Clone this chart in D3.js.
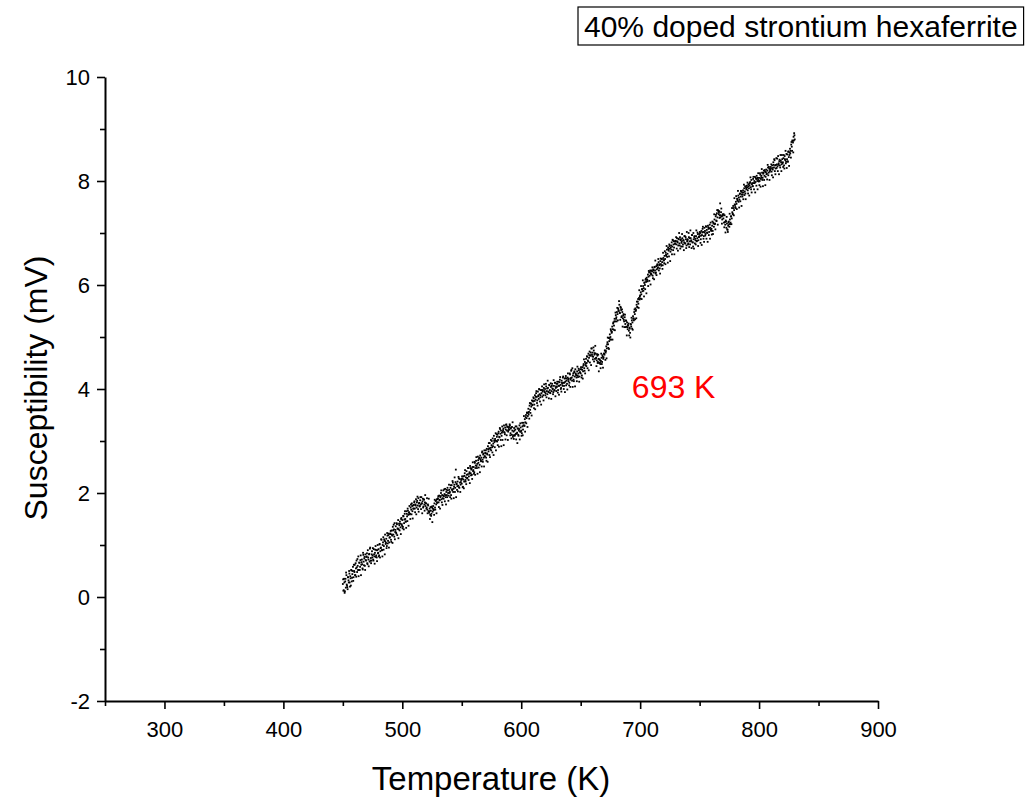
<!DOCTYPE html>
<html>
<head>
<meta charset="utf-8">
<script src="https://cdn.jsdelivr.net/npm/d3@7/dist/d3.min.js"></script>
<style>
  html, body { margin: 0; padding: 0; background: #fff; }
  svg { display: block; font-family: "Liberation Sans", Arial, sans-serif; }
</style>
</head>
<body>
<svg id="chart" width="1031" height="804"></svg>
<script>
// ---- data ----
const tempStartA = 450;     // K, first reading of run A
const tempStartB = 450.25;  // K, first reading of run B
const tempStep = 0.5;       // K between readings
const susceptibilityA = [   // mV, run A, one reading per 0.5 K
  0.25,0.12,0.35,0.08,0.30,0.18,0.42,0.22,0.15,0.38,0.28,0.45,0.20,0.36,0.52,0.30,0.44,0.58,0.38,0.50,
  0.62,0.42,0.55,0.70,0.48,0.60,0.78,0.52,0.66,0.58,0.80,0.62,0.72,0.55,0.85,0.68,0.74,0.60,0.82,0.70,
  0.78,0.65,0.90,0.72,0.82,0.68,0.95,0.75,0.70,0.88,0.80,0.72,0.92,0.78,0.85,0.98,0.80,0.76,0.90,0.84,
  0.92,0.80,1.02,0.88,0.95,1.10,0.90,1.00,1.15,0.98,1.08,1.20,1.02,1.12,0.98,1.18,1.08,1.22,1.05,1.15,
  1.22,1.10,1.28,1.18,1.35,1.20,1.30,1.42,1.25,1.36,1.22,1.40,1.32,1.48,1.30,1.38,1.45,1.34,1.50,1.40,
  1.48,1.35,1.55,1.42,1.60,1.50,1.45,1.65,1.55,1.70,1.58,1.62,1.75,1.60,1.72,1.68,1.80,1.65,1.76,1.70,
  1.82,1.70,1.78,1.88,1.72,1.85,1.76,1.90,1.80,1.74,1.86,1.78,1.92,1.80,1.84,1.72,1.88,1.78,1.82,1.75,
  1.80,1.72,1.68,1.78,1.65,1.62,1.70,1.58,1.66,1.60,1.72,1.64,1.75,1.68,1.80,1.72,1.85,1.78,1.88,1.82,
  1.90,1.82,1.95,1.86,1.92,2.00,1.88,1.96,1.90,2.05,1.94,1.98,2.08,1.92,2.02,1.96,2.10,2.00,1.95,2.06,
  2.02,2.10,1.96,2.15,2.05,2.20,2.08,2.12,2.30,2.10,2.45,2.18,2.06,2.22,2.14,2.28,2.10,2.20,2.16,2.25,
  2.18,2.28,2.12,2.32,2.22,2.38,2.25,2.30,2.42,2.28,2.36,2.48,2.32,2.40,2.52,2.38,2.45,2.35,2.50,2.42,
  2.50,2.40,2.58,2.48,2.62,2.52,2.56,2.70,2.58,2.66,2.54,2.72,2.62,2.68,2.78,2.64,2.74,2.68,2.82,2.70,
  2.76,2.68,2.85,2.74,2.90,2.80,2.86,2.96,2.84,3.02,2.92,2.88,3.05,2.95,3.10,2.98,3.04,3.15,3.00,3.08,
  3.12,3.02,3.18,3.08,3.25,3.14,3.20,3.10,3.28,3.18,3.24,3.30,3.16,3.26,3.22,3.32,3.20,3.28,3.18,3.25,
  3.22,3.30,3.15,3.26,3.12,3.20,3.08,3.18,3.25,3.10,3.22,3.14,3.28,3.16,3.24,3.12,3.20,3.30,3.18,3.26,
  3.20,3.15,3.28,3.22,3.35,3.30,3.42,3.36,3.50,3.44,3.55,3.48,3.62,3.56,3.68,3.60,3.72,3.66,3.78,3.70,
  3.76,3.82,3.70,3.88,3.80,3.92,3.85,3.78,3.95,3.88,4.00,3.90,3.84,3.98,3.92,4.05,3.95,3.88,4.02,3.96,
  4.00,3.92,4.05,3.96,3.90,4.02,3.94,4.08,3.98,3.92,4.04,3.96,4.10,4.00,3.94,4.06,3.98,4.12,4.02,3.96,
  4.04,4.10,3.98,4.14,4.06,4.18,4.08,4.02,4.16,4.10,4.22,4.12,4.06,4.20,4.14,4.25,4.16,4.10,4.22,4.18,
  4.20,4.12,4.28,4.18,4.35,4.22,4.40,4.26,4.18,4.32,4.24,4.38,4.28,4.22,4.34,4.26,4.30,4.36,4.24,4.32,
  4.30,4.38,4.26,4.42,4.34,4.48,4.40,4.52,4.46,4.58,4.50,4.62,4.55,4.68,4.60,4.72,4.64,4.70,4.78,4.66,
  4.70,4.62,4.74,4.66,4.58,4.68,4.60,4.55,4.64,4.52,4.58,4.50,4.56,4.48,4.54,4.60,4.52,4.62,4.58,4.68,
  4.66,4.74,4.70,4.82,4.78,4.90,4.86,4.98,4.92,5.05,5.00,5.12,5.08,5.20,5.15,5.28,5.22,5.35,5.30,5.42,
  5.38,5.48,5.44,5.55,5.50,5.62,5.46,5.58,5.52,5.40,5.48,5.36,5.44,5.30,5.38,5.25,5.32,5.20,5.28,5.15,
  5.22,5.12,5.18,5.08,5.25,5.20,5.32,5.28,5.40,5.36,5.48,5.44,5.55,5.52,5.62,5.58,5.68,5.64,5.75,5.72,
  5.80,5.86,5.82,5.92,5.88,5.98,5.94,6.04,6.00,6.10,6.06,6.14,6.10,6.20,6.16,6.24,6.18,6.28,6.22,6.20,
  6.26,6.18,6.30,6.24,6.34,6.28,6.22,6.36,6.30,6.40,6.34,6.44,6.38,6.32,6.46,6.40,6.50,6.44,6.38,6.52,
  6.48,6.56,6.50,6.62,6.56,6.68,6.60,6.72,6.66,6.78,6.70,6.64,6.76,6.82,6.74,6.86,6.78,6.72,6.84,6.80,
  6.84,6.78,6.90,6.82,6.76,6.88,6.80,6.92,6.86,6.74,6.84,6.90,6.78,6.86,6.82,6.94,6.80,6.88,6.76,6.84,
  6.88,6.80,6.92,6.84,6.78,6.90,6.86,6.96,6.82,6.74,6.88,6.92,6.80,6.86,6.94,6.84,6.90,6.98,6.86,6.92,
  6.94,7.00,6.88,7.04,6.96,7.08,7.02,6.94,7.10,7.04,6.98,7.12,7.06,7.00,7.14,7.08,7.02,7.16,7.10,7.06,
  7.08,7.14,7.04,7.20,7.12,7.26,7.18,7.32,7.24,7.38,7.30,7.44,7.36,7.42,7.34,7.30,7.40,7.32,7.26,7.36,
  7.28,7.20,7.34,7.16,7.24,7.10,7.18,7.06,7.14,7.22,7.12,7.26,7.20,7.32,7.28,7.40,7.36,7.48,7.44,7.55,
  7.50,7.60,7.56,7.66,7.62,7.72,7.68,7.64,7.76,7.70,7.80,7.74,7.70,7.82,7.78,7.86,7.80,7.76,7.88,7.84,
  7.88,7.82,7.94,7.86,7.92,7.98,7.88,8.02,7.94,7.90,8.04,7.96,8.00,8.08,7.98,8.04,8.10,8.00,8.06,8.02,
  8.06,8.00,8.12,8.04,8.10,8.16,8.06,8.14,8.20,8.10,8.18,8.08,8.22,8.14,8.20,8.26,8.16,8.24,8.18,8.22,
  8.24,8.18,8.30,8.22,8.36,8.26,8.40,8.30,8.24,8.44,8.32,8.28,8.48,8.34,8.38,8.30,8.50,8.36,8.32,8.42,
  8.36,8.44,8.30,8.48,8.40,8.34,8.52,8.42,8.38,8.56,8.46,8.50,8.62,8.58,8.70,8.66,8.78,8.74,8.85,8.92,
  8.80
];
const susceptibilityB = [   // mV, run B, one reading per 0.5 K (offset 0.25 K)
  0.34,0.13,0.28,0.11,0.35,0.47,0.24,0.19,0.38,0.32,0.50,0.28,0.40,0.22,0.51,0.37,0.50,0.31,0.62,0.48,
  0.42,0.65,0.39,0.57,0.73,0.52,0.40,0.66,0.52,0.71,0.42,0.67,0.63,0.53,0.81,0.61,0.77,0.52,0.71,0.77,
  0.84,0.63,0.76,0.59,0.83,0.93,0.70,0.65,0.82,0.76,0.94,0.70,0.82,0.64,0.91,0.77,0.90,0.69,1.00,0.85,
  0.78,1.01,0.76,0.94,1.11,0.90,0.78,1.05,0.91,1.11,0.82,1.07,1.04,0.94,1.23,1.03,1.19,0.95,1.14,1.21,
  1.27,1.06,1.20,1.04,1.28,1.39,1.16,1.11,1.29,1.24,1.42,1.19,1.31,1.13,1.41,1.28,1.41,1.21,1.52,1.37,
  1.32,1.56,1.30,1.49,1.65,1.45,1.33,1.60,1.46,1.66,1.37,1.63,1.59,1.50,1.78,1.59,1.75,1.51,1.70,1.77,
  1.84,1.63,1.76,1.59,1.82,1.93,1.69,1.64,1.81,1.75,1.92,1.69,1.80,1.61,1.89,1.74,1.87,1.66,1.96,1.80,
  1.70,1.90,1.61,1.76,1.89,1.65,1.50,1.73,1.56,1.74,1.44,1.70,1.67,1.58,1.87,1.68,1.85,1.61,1.81,1.88,
  1.94,1.73,1.87,1.70,1.94,2.05,1.82,1.77,1.95,1.89,2.07,1.84,1.96,1.78,2.06,1.92,2.05,1.85,2.16,2.00,
  1.92,2.15,1.89,2.07,2.23,2.02,1.90,2.16,2.02,2.21,1.92,2.17,2.13,2.03,2.31,2.11,2.27,2.02,2.21,2.27,
  2.32,2.11,2.26,2.09,2.33,2.44,2.22,2.17,2.35,2.29,2.48,2.25,2.37,2.19,2.48,2.34,2.47,2.27,2.59,2.44,
  2.37,2.60,2.35,2.53,2.69,2.48,2.37,2.63,2.49,2.68,2.40,2.65,2.61,2.51,2.80,2.60,2.76,2.51,2.71,2.77,
  2.82,2.62,2.76,2.60,2.84,2.96,2.73,2.69,2.87,2.82,3.00,2.78,2.90,2.73,3.01,2.88,3.01,2.82,3.13,2.99,
  2.92,3.15,2.89,3.07,3.23,3.02,2.90,3.16,3.02,3.21,2.92,3.17,3.13,3.03,3.31,3.11,3.27,3.02,3.21,3.27,
  3.32,3.11,3.24,3.05,3.27,3.36,3.11,3.04,3.20,3.12,3.28,3.03,3.14,2.96,3.24,3.10,3.23,3.03,3.34,3.18,
  3.10,3.35,3.11,3.30,3.48,3.29,3.18,3.46,3.34,3.54,3.27,3.54,3.51,3.43,3.73,3.54,3.72,3.49,3.69,3.77,
  3.84,3.63,3.77,3.61,3.85,3.96,3.73,3.68,3.86,3.81,3.99,3.76,3.88,3.70,3.98,3.85,3.98,3.78,4.09,3.94,
  3.88,4.10,3.84,4.01,4.16,3.95,3.82,4.07,3.93,4.11,3.81,4.06,4.01,3.90,4.17,3.97,4.12,3.86,4.05,4.10,
  4.14,3.93,4.06,3.89,4.13,4.23,4.00,3.95,4.12,4.06,4.24,4.00,4.12,3.94,4.21,4.07,4.20,3.99,4.30,4.15,
  4.07,4.30,4.04,4.21,4.37,4.16,4.04,4.30,4.15,4.34,4.05,4.30,4.26,4.15,4.43,4.23,4.39,4.14,4.32,4.38,
  4.42,4.22,4.37,4.20,4.45,4.57,4.35,4.30,4.49,4.44,4.63,4.40,4.53,4.36,4.65,4.51,4.65,4.46,4.78,4.63,
  4.57,4.80,4.53,4.69,4.83,4.59,4.44,4.67,4.50,4.66,4.34,4.57,4.51,4.40,4.68,4.48,4.65,4.41,4.61,4.68,
  4.74,4.56,4.73,4.59,4.86,4.99,4.79,4.77,4.98,4.95,5.15,4.95,5.10,4.95,5.26,5.14,5.30,5.13,5.47,5.35,
  5.30,5.56,5.32,5.52,5.69,5.47,5.33,5.56,5.38,5.53,5.20,5.41,5.33,5.19,5.43,5.19,5.31,5.03,5.19,5.23,
  5.26,5.03,5.16,4.99,5.24,5.37,5.16,5.14,5.35,5.32,5.53,5.34,5.50,5.36,5.68,5.57,5.73,5.56,5.90,5.78,
  5.74,5.98,5.73,5.92,6.09,5.89,5.78,6.05,5.92,6.12,5.84,6.10,6.07,5.98,6.27,6.08,6.25,6.01,6.21,6.28,
  6.34,6.13,6.28,6.11,6.35,6.47,6.24,6.19,6.38,6.32,6.50,6.28,6.40,6.22,6.51,6.37,6.50,6.31,6.62,6.47,
  6.42,6.65,6.40,6.58,6.75,6.54,6.43,6.69,6.55,6.75,6.46,6.72,6.68,6.59,6.87,6.67,6.84,6.59,6.79,6.85,
  6.92,6.70,6.84,6.66,6.89,7.00,6.76,6.70,6.88,6.81,6.98,6.74,6.86,6.67,6.94,6.80,6.92,6.71,7.02,6.86,
  6.78,7.00,6.73,6.90,7.05,6.84,6.71,6.96,6.82,7.00,6.70,6.94,6.89,6.78,7.05,6.85,7.01,6.75,6.93,6.98,
  7.02,6.81,6.95,6.77,7.01,7.12,6.89,6.83,7.01,6.95,7.13,6.89,7.01,6.83,7.11,6.96,7.09,6.89,7.20,7.04,
  6.97,7.22,6.98,7.18,7.36,7.17,7.07,7.35,7.23,7.44,7.16,7.42,7.39,7.29,7.57,7.34,7.47,7.18,7.33,7.35,
  7.36,7.11,7.21,7.01,7.22,7.31,7.07,7.02,7.21,7.17,7.37,7.17,7.32,7.17,7.48,7.37,7.52,7.34,7.67,7.54,
  7.48,7.71,7.46,7.64,7.81,7.60,7.49,7.75,7.61,7.81,7.52,7.78,7.74,7.65,7.93,7.73,7.90,7.65,7.85,7.91,
  7.97,7.76,7.90,7.72,7.96,8.07,7.84,7.78,7.96,7.90,8.08,7.84,7.96,7.78,8.06,7.91,8.04,7.84,8.15,7.99,
  7.92,8.15,7.89,8.07,8.23,8.02,7.90,8.16,8.02,8.21,7.92,8.17,8.13,8.03,8.31,8.11,8.27,8.02,8.21,8.27,
  8.32,8.11,8.25,8.07,8.31,8.42,8.19,8.13,8.31,8.25,8.43,8.19,8.31,8.13,8.41,8.26,8.39,8.19,8.50,8.34,
  8.27,8.50,8.24,8.42,8.58,8.37,8.25,8.51,8.37,8.57,8.29,8.55,8.53,8.45,8.75,8.58,8.77,8.55,8.78,8.88
];
const xMajorTicks = [300, 400, 500, 600, 700, 800, 900];
const xMinorTicks = [250, 350, 450, 550, 650, 750, 850];
const yMajorTicks = [-2, 0, 2, 4, 6, 8, 10];
const yMinorTicks = [-1, 1, 3, 5, 7, 9];
const xTitle = "Temperature (K)";
const yTitle = "Susceptibility (mV)";
const legendText = "40% doped strontium hexaferrite";
const annotation = { T: 693, v: 4.05, text: "693 K" };

// ---- layout ----
const svg = d3.select("#chart");
const plot = { left: 105, right: 878, top: 77, bottom: 701 };
const FONT = "Liberation Sans, Arial, sans-serif";

const x = d3.scaleLinear().domain([250, 900]).range([plot.left, plot.right]);
const y = d3.scaleLinear().domain([-2, 10]).range([plot.bottom, plot.top]);

const points = susceptibilityA.map((v, i) => ({ T: tempStartA + i * tempStep, v }))
  .concat(susceptibilityB.map((v, i) => ({ T: tempStartB + i * tempStep, v })));

// scatter
svg.append("g")
  .selectAll("rect")
  .data(points)
  .join("rect")
  .attr("x", d => x(d.T) - 0.9)
  .attr("y", d => y(d.v) - 0.9)
  .attr("width", 1.8)
  .attr("height", 1.8)
  .attr("fill", "#000");

// axes
const axisStyle = g => {
  g.select(".domain").attr("stroke", "#000").attr("stroke-width", 2);
  g.selectAll(".tick line").attr("stroke", "#000").attr("stroke-width", 1.6);
};
const labelStyle = g => g.selectAll("text")
  .attr("font-size", 22).attr("fill", "#000").attr("font-family", FONT);
const plain = d => String(d);

// x minor
svg.append("g")
  .attr("transform", `translate(0,${plot.bottom})`)
  .call(d3.axisBottom(x).tickValues(xMinorTicks).tickSize(5).tickFormat(""))
  .call(axisStyle)
  .call(g => g.select(".domain").remove());
// x major
svg.append("g")
  .attr("transform", `translate(0,${plot.bottom})`)
  .call(d3.axisBottom(x).tickValues(xMajorTicks).tickSize(8).tickSizeOuter(0).tickPadding(12).tickFormat(plain))
  .call(axisStyle)
  .call(labelStyle);

// y minor
svg.append("g")
  .attr("transform", `translate(${plot.left},0)`)
  .call(d3.axisLeft(y).tickValues(yMinorTicks).tickSize(5).tickFormat(""))
  .call(axisStyle)
  .call(g => g.select(".domain").remove());
// y major
svg.append("g")
  .attr("transform", `translate(${plot.left},0)`)
  .call(d3.axisLeft(y).tickValues(yMajorTicks).tickSize(8).tickSizeOuter(0).tickPadding(7).tickFormat(plain))
  .call(axisStyle)
  .call(labelStyle);

// axis titles
svg.append("text")
  .attr("x", 491)
  .attr("y", 790)
  .attr("text-anchor", "middle")
  .attr("font-size", 33)
  .attr("font-family", FONT)
  .attr("fill", "#000")
  .text(xTitle);

svg.append("text")
  .attr("transform", `translate(47,388) rotate(-90)`)
  .attr("text-anchor", "middle")
  .attr("font-size", 32)
  .attr("font-family", FONT)
  .attr("fill", "#000")
  .text(yTitle);

// annotation
svg.append("text")
  .attr("x", x(annotation.T))
  .attr("y", y(annotation.v) + 12)
  .attr("font-size", 32)
  .attr("font-family", FONT)
  .attr("fill", "#ff0000")
  .text(annotation.text);

// legend box
const lg = svg.append("g");
const lt = lg.append("text")
  .attr("x", 584)
  .attr("y", 37)
  .attr("font-size", 30)
  .attr("font-family", FONT)
  .attr("fill", "#000")
  .text(legendText);
const bb = lt.node().getBBox();
lg.insert("rect", "text")
  .attr("x", bb.x - 6)
  .attr("y", 7)
  .attr("width", bb.width + 12)
  .attr("height", 38)
  .attr("fill", "#fff")
  .attr("stroke", "#000")
  .attr("stroke-width", 1.2);
</script>
</body>
</html>
